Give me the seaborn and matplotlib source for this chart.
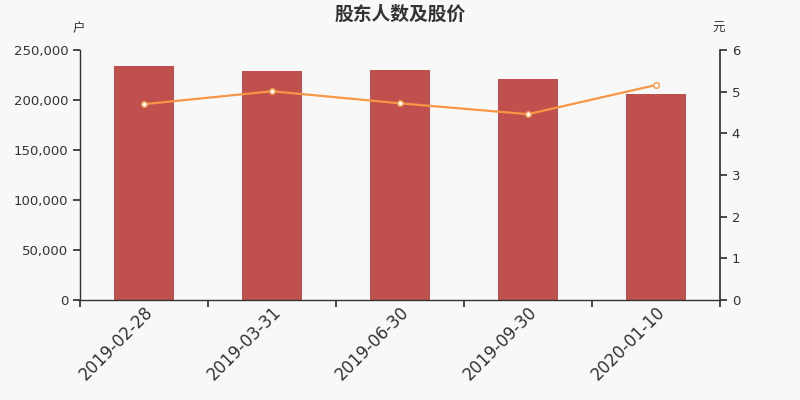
import matplotlib
matplotlib.use("Agg")
import matplotlib.pyplot as plt
import seaborn as sns
import pandas as pd
from matplotlib.ticker import FuncFormatter, FixedLocator

# Data
dates = ["2019-02-28", "2019-03-31", "2019-06-30", "2019-09-30", "2020-01-10"]
holders = [234300, 228700, 229800, 220700, 206000]
price = [4.70, 5.01, 4.72, 4.46, 5.16]

df = pd.DataFrame({"date": dates, "holders": holders, "price": price})

sns.set_theme(style="white")
plt.rcParams['font.family'] = ['DejaVu Sans', 'Noto Sans CJK SC']

bg = "#f8f8f8"
fig = plt.figure(figsize=(8, 4), dpi=100, facecolor=bg)
ax = fig.add_axes([0.10, 0.25, 0.80, 0.625])
ax.set_facecolor(bg)

sns.barplot(data=df, x="date", y="holders", color="#c0504d", width=0.47,
            saturation=1, ax=ax, linewidth=0)
ax.set_xlim(-0.5, len(dates) - 0.5)
ax.set_ylim(0, 250000)
ax.set_yticks([0, 50000, 100000, 150000, 200000, 250000])
ax.yaxis.set_major_formatter(FuncFormatter(lambda v, p: f"{int(v):,}"))
ax.set_xlabel("")
ax.set_ylabel("")

# category-boundary ticks, labels at centers
ax.xaxis.set_major_locator(FixedLocator([i - 0.5 for i in range(len(dates) + 1)]))
ax.set_xticklabels([])
ax.xaxis.set_minor_locator(FixedLocator(range(len(dates))))
ax.set_xticklabels(dates, minor=True, rotation=45, ha="right", rotation_mode="anchor",
                   fontsize=12, color="#333333")
ax.tick_params(axis="x", which="minor", length=0, pad=2)
ax.tick_params(axis="x", which="major", length=5, color="#333333", direction="out")
ax.tick_params(axis="y", length=5, color="#333333", labelsize=9.5, labelcolor="#333333")
ax.tick_params(left=True, bottom=True)

for s in ["top", "right"]:
    ax.spines[s].set_visible(False)
for s in ["left", "bottom"]:
    ax.spines[s].set_color("#333333")
    ax.spines[s].set_linewidth(1)

ax2 = ax.twinx()
sns.lineplot(x=list(range(len(dates))), y=df["price"], ax=ax2, color="#f79646",
             linewidth=1.6, marker="o", markersize=4, markerfacecolor="white",
             markeredgecolor="#f79646", markeredgewidth=1)
ax2.set_ylim(0, 6)
ax2.set_yticks(range(0, 7))
ax2.set_ylabel("")
ax2.tick_params(axis="y", length=5, color="#333333", labelsize=9.5, labelcolor="#333333", right=True)
for s in ["top", "left", "bottom"]:
    ax2.spines[s].set_visible(False)
ax2.spines["right"].set_color("#333333")

cjk = ['Noto Sans CJK SC', 'DejaVu Sans']
fig.text(0.5, 0.965, "股东人数及股价", ha="center", va="center", fontsize=13.5,
         fontweight="bold", color="#333333", family=cjk)
fig.text(0.098, 0.928, "户", ha="center", va="center", fontsize=9, color="#333333", family=cjk)
fig.text(0.898, 0.928, "元", ha="center", va="center", fontsize=9, color="#333333", family=cjk)

fig.savefig("out.png", dpi=100, facecolor=bg)
